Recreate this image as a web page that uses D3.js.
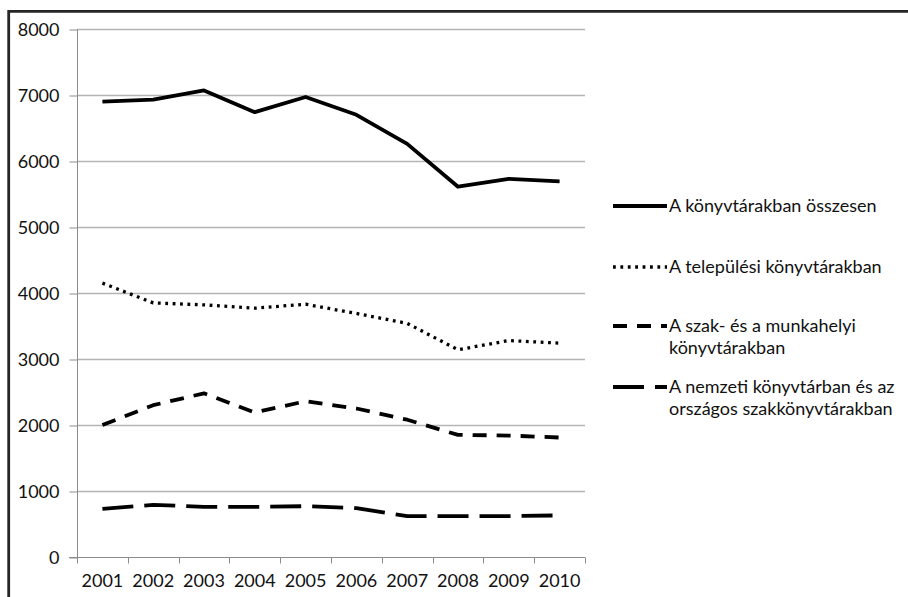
<!DOCTYPE html>
<html>
<head>
<meta charset="utf-8">
<script src="https://cdn.jsdelivr.net/npm/d3@7"></script>
<style>
  body { margin: 0; background: #fff; }
  svg text { font-family: Lato, "Open Sans", sans-serif; fill: #111; }
</style>
</head>
<body>
<svg id="chart"></svg>
<script>
var years = ["2001", "2002", "2003", "2004", "2005", "2006", "2007", "2008", "2009", "2010"];
var yTicks = [0, 1000, 2000, 3000, 4000, 5000, 6000, 7000, 8000];

var osszesen = [6900, 6930, 7070, 6740, 6970, 6700, 6260, 5610, 5730, 5690];
var telepulesi = [4150, 3850, 3820, 3770, 3830, 3690, 3540, 3140, 3280, 3240];
var szak = [2000, 2300, 2480, 2190, 2360, 2250, 2080, 1850, 1840, 1810];
var nemzeti = [730, 790, 760, 760, 770, 740, 620, 620, 620, 630];

var seriesNames = [
  ["A könyvtárakban összesen"],
  ["A települési könyvtárakban"],
  ["A szak- és a munkahelyi", "könyvtárakban"],
  ["A nemzeti könyvtárban és az", "országos szakkönyvtárakban"]
];

var width = 908;
var height = 597;

var svg = d3.select("#chart").attr("width", width).attr("height", height);

// frame
svg.append("path")
  .attr("d", "M8.7," + height + "V11.3H" + width)
  .attr("fill", "none")
  .attr("stroke", "#262626")
  .attr("stroke-width", 2.8);

var x = d3.scaleBand().domain(years).range([77, 585]).padding(0);
var y = d3.scaleLinear().domain([0, 8000]).range([557, 29]);

// gridlines
svg.append("g")
  .selectAll("line")
  .data(yTicks.slice(1))
  .enter()
  .append("line")
  .attr("x1", 77)
  .attr("x2", 585)
  .attr("y1", function(d) { return Math.round(y(d)) + 0.5; })
  .attr("y2", function(d) { return Math.round(y(d)) + 0.5; })
  .attr("stroke", "#b4b4b4")
  .attr("stroke-width", 1.3);

// y axis
var yAxis = svg.append("g")
  .attr("transform", "translate(77.5,0.5)")
  .call(d3.axisLeft(y).tickValues(yTicks).tickSize(8).tickPadding(10).tickFormat(d3.format("d")));
yAxis.selectAll("line, path").attr("stroke", "#8c8c8c");
yAxis.select(".domain").attr("d", "M0," + y(0) + "V" + y(8000));
yAxis.selectAll("text")
  .attr("font-size", 18)
  .attr("fill", "#111")
  .attr("font-family", "Lato, 'Open Sans', sans-serif");

// x axis
var xAxis = svg.append("g")
  .attr("transform", "translate(0," + (Math.round(y(0)) + 0.5) + ")");
xAxis.append("line")
  .attr("x1", 69).attr("x2", 585)
  .attr("stroke", "#8c8c8c");
xAxis.selectAll(".tk")
  .data(years.concat(["end"]))
  .enter()
  .append("line")
  .attr("class", "tk")
  .attr("x1", function(d, i) { return Math.round(77 + i * x.bandwidth()) + 0.5; })
  .attr("x2", function(d, i) { return Math.round(77 + i * x.bandwidth()) + 0.5; })
  .attr("y1", 0)
  .attr("y2", 6)
  .attr("stroke", "#8c8c8c");
xAxis.selectAll(".lbl")
  .data(years)
  .enter()
  .append("text")
  .attr("class", "lbl")
  .attr("x", function(d) { return x(d) + x.bandwidth() / 2; })
  .attr("y", 29)
  .attr("text-anchor", "middle")
  .attr("font-size", 18)
  .text(function(d) { return d; });

var styles = [
  { data: osszesen, dash: null, w: 3.8 },
  { data: telepulesi, dash: "2.8,4.6", w: 3.3 },
  { data: szak, dash: "14,10", w: 3.8 },
  { data: nemzeti, dash: "31,11", w: 3.8 }
];

var line = d3.line()
  .x(function(d, i) { return x(years[i]) + x.bandwidth() / 2; })
  .y(function(d) { return y(d); });

svg.append("g")
  .selectAll("path")
  .data(styles)
  .enter()
  .append("path")
  .attr("d", function(s) { return line(s.data); })
  .attr("fill", "none")
  .attr("stroke", "#000")
  .attr("stroke-width", function(s) { return s.w; })
  .attr("stroke-dasharray", function(s) { return s.dash; })
  .attr("stroke-linejoin", "round");

// legend
var legendY = [206, 267, 326, 387];
var legend = svg.append("g").attr("class", "legend");
seriesNames.forEach(function(names, i) {
  var row = legend.append("g").attr("transform", "translate(0," + legendY[i] + ")");
  row.append("line")
    .attr("x1", 613)
    .attr("x2", 667)
    .attr("stroke", "#000")
    .attr("stroke-width", styles[i].w)
    .attr("stroke-dasharray", styles[i].dash);
  names.forEach(function(t, j) {
    row.append("text")
      .attr("x", 669)
      .attr("y", j * 22 + 6)
      .attr("font-size", 18)
      .text(t);
  });
});
</script>
</body>
</html>
